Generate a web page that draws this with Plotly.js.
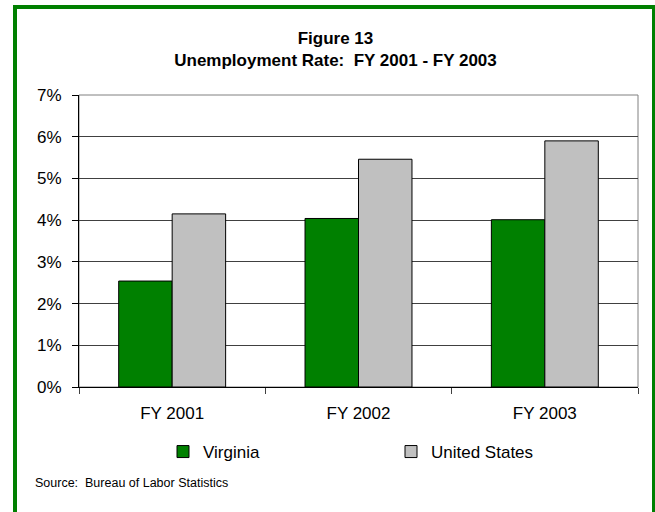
<!DOCTYPE html>
<html>
<head>
<meta charset="utf-8">
<script src="https://cdn.plot.ly/plotly-3.0.1.min.js"></script>
<style>
  html, body { margin: 0; padding: 0; background: #ffffff; }
  #chart { width: 655px; height: 512px; }
</style>
</head>
<body>
<div id="chart"></div>
<script>
// ---- data ----
const categories = ["FY 2001", "FY 2002", "FY 2003"];
const virginiaRate = [0.0254, 0.0404, 0.0401];
const usRate = [0.0415, 0.0546, 0.0590];
const seriesNames = ["Virginia", "United States"];
const yTickValues = [0, 0.01, 0.02, 0.03, 0.04, 0.05, 0.06, 0.07];
const yTickLabels = ["0%", "1%", "2%", "3%", "4%", "5%", "6%", "7%"];
const titleLines = ["Figure 13", "Unemployment Rate:\u00a0 FY 2001 - FY 2003"];
const sourceText = "Source:\u00a0 Bureau of Labor Statistics";

// ---- geometry helpers (pixel -> paper) ----
const W = 655, H = 512;
const M = { l: 79, r: 17, t: 95, b: 125 };
const plotW = W - M.l - M.r, plotH = H - M.t - M.b;
const px = x => (x - M.l) / plotW;
const py = y => (H - M.b - y) / plotH;

const FONT = "Arial, 'Liberation Sans', sans-serif";

const traces = [
  {
    type: "bar", name: seriesNames[0], x: categories, y: virginiaRate,
    marker: { color: "#008000", line: { color: "#000000", width: 1 } },
    hoverinfo: "skip"
  },
  {
    type: "bar", name: seriesNames[1], x: categories, y: usRate,
    marker: { color: "#C0C0C0", line: { color: "#000000", width: 1 } },
    hoverinfo: "skip"
  }
];

const layout = {
  width: W, height: H,
  margin: M,
  paper_bgcolor: "#ffffff",
  plot_bgcolor: "#ffffff",
  font: { family: FONT, size: 17, color: "#000000" },
  barmode: "group",
  bargap: 0.426,
  bargroupgap: 0,
  title: {
    text: "<b>" + titleLines[0] + "</b><br><b>" + titleLines[1] + "</b>",
    font: { family: FONT, size: 17, color: "#000000" },
    x: 335.5 / W, xanchor: "center",
    y: 1 - 44 / H, yanchor: "top"
  },
  xaxis: {
    type: "category",
    showline: true, linecolor: "#000000", linewidth: 1,
    ticks: "outside", tickson: "boundaries", ticklen: 6, tickcolor: "#404040",
    ticklabelstandoff: 11,
    showgrid: false, zeroline: false,
    tickfont: { family: FONT, size: 17, color: "#000000" },
    fixedrange: true
  },
  yaxis: {
    range: [0, 0.07],
    tickvals: yTickValues, ticktext: yTickLabels,
    showline: true, linecolor: "#000000", linewidth: 1,
    ticks: "outside", ticklen: 6, tickcolor: "#000000",
    ticklabelstandoff: 7,
    showgrid: true, gridcolor: "#404040", gridwidth: 1,
    zeroline: false,
    tickfont: { family: FONT, size: 17, color: "#000000" },
    fixedrange: true
  },
  showlegend: true,
  legend: {
    orientation: "h",
    x: px(163), xanchor: "left",
    y: py(452), yanchor: "middle",
    entrywidth: 183, entrywidthmode: "pixels",
    font: { family: FONT, size: 17, color: "#000000" },
    bgcolor: "rgba(0,0,0,0)",
    traceorder: "normal",
    itemclick: false, itemdoubleclick: false
  },
  annotations: [
    {
      text: sourceText, showarrow: false,
      xref: "paper", yref: "paper",
      x: px(33), xanchor: "left",
      y: py(483), yanchor: "middle",
      font: { family: FONT, size: 12.5, color: "#000000" }
    }
  ],
  shapes: [
    { type: "rect", xref: "paper", yref: "paper", layer: "below",
      x0: 0, x1: 1, y0: 0, y1: 1,
      line: { color: "#808080", width: 1 } },
    { type: "rect", xref: "paper", yref: "paper", layer: "above",
      x0: px(15), x1: px(654), y0: py(516), y1: py(7),
      line: { color: "#008000", width: 4 }, fillcolor: "rgba(0,0,0,0)" }
  ]
};

Plotly.newPlot("chart", traces, layout, { displayModeBar: false, staticPlot: true });
</script>
</body>
</html>
